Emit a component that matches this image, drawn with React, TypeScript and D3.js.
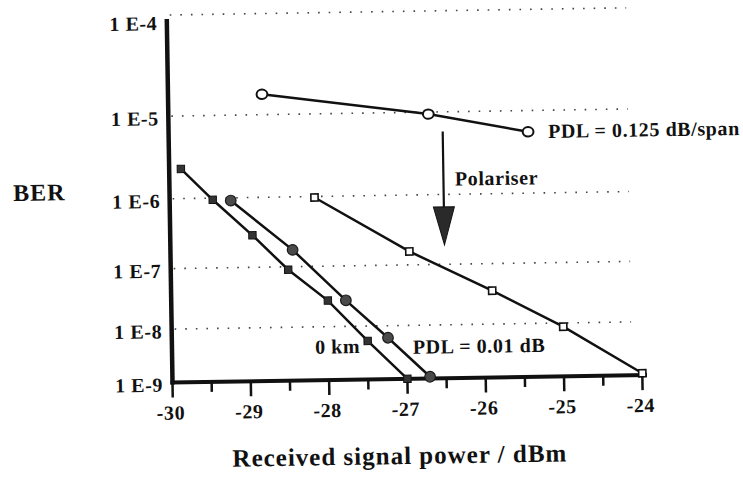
import React from "react";
import * as d3 from "d3";

// Received power (dBm) and bit error rate for each measured curve
const km0Power = [-29.85, -29.45, -28.95, -28.5, -28.0, -27.5, -27.0];
const km0Ber = [2.4e-6, 9.5e-7, 3.0e-7, 9.0e-8, 2.8e-8, 5.4e-9, 1.0e-9];

const pdl001Power = [-29.22, -28.44, -27.77, -27.24, -26.71];
const pdl001Ber = [9.2e-7, 1.8e-7, 2.8e-8, 6.1e-9, 1.08e-9];

const polariserPower = [-28.15, -26.95, -25.9, -25.0, -24.0];
const polariserBer = [9.7e-7, 1.6e-7, 3.7e-8, 8.6e-9, 1.09e-9];

const pdl0125Power = [-28.8, -26.68, -25.41];
const pdl0125Ber = [1.66e-5, 9.5e-6, 5.75e-6];

// Axis ticks
const powerTicks = [-30, -29, -28, -27, -26, -25, -24];
const powerMinorTicks = [-29.5, -28.5, -27.5, -26.5, -25.5, -24.5];
const berTicks = [1e-4, 1e-5, 1e-6, 1e-7, 1e-8, 1e-9];
const berTickLabels = ["1 E-4", "1 E-5", "1 E-6", "1 E-7", "1 E-8", "1 E-9"];

// Polariser annotation arrow (power, BER at tail, head base and tip)
const arrowPower = -26.5;
const arrowTailBer = 6.0e-6;
const arrowHeadBer = 6.8e-7;
const arrowTipBer = 1.97e-7;

const FONT = "'Liberation Serif', 'Times New Roman', serif";

// BER axis uses the usual log(-log(BER)) scaling
const berT = (b: number) => Math.log10(-Math.log10(b));

export default function App() {
  const W = 743;
  const H = 479;
  const x0 = 172.5;
  const yBase = 382.5;

  const x = d3.scaleLinear().domain([-30, -24]).range([x0, 642.4]);
  const yLin = d3
    .scaleLinear()
    .domain([berT(1e-9), berT(1e-4)])
    .range([yBase, 15]);
  const y = (b: number) => yLin(berT(b));

  const line = d3
    .line<[number, number]>()
    .x((d) => x(d[0]))
    .y((d) => y(d[1]));

  const zip = (p: number[], b: number[]) =>
    p.map((v, i) => [v, b[i]] as [number, number]);

  const km0 = zip(km0Power, km0Ber);
  const pdl001 = zip(pdl001Power, pdl001Ber);
  const pol = zip(polariserPower, polariserBer);
  const pdl0125 = zip(pdl0125Power, pdl0125Ber);

  const gridEnd = 632;
  const ax = x(arrowPower);
  const last0125 = pdl0125[pdl0125.length - 1];

  const textStyle = {
    fontFamily: FONT,
    fontWeight: 700,
    fontSize: 20,
    letterSpacing: 0.6,
    fill: "#111",
  } as React.CSSProperties;

  return (
    <div style={{ position: "absolute", left: 0, top: 0 }}>
      <svg width={W} height={H} viewBox={`0 0 ${W} ${H}`}>
        <rect width={W} height={H} fill="#fff" />
        <g transform={`rotate(-0.9 ${x0} ${yBase})`}>
          {/* dotted gridlines */}
          {berTicks.slice(0, 5).map((b) => (
            <line
              key={"g" + b}
              x1={x0 + 3}
              x2={gridEnd}
              y1={y(b)}
              y2={y(b)}
              stroke="#444"
              strokeWidth={1.6}
              strokeDasharray="1.6 9"
            />
          ))}

          {/* axes */}
          <line x1={x0} x2={x0} y1={yBase + 2} y2={19} stroke="#111" strokeWidth={4.5} />
          <line x1={x0 - 2} x2={647} y1={yBase} y2={yBase} stroke="#111" strokeWidth={4} />

          {powerTicks.map((t) => (
            <line key={"M" + t} x1={x(t)} x2={x(t)} y1={yBase} y2={yBase + 15} stroke="#111" strokeWidth={2.5} />
          ))}
          {powerMinorTicks.map((t) => (
            <line key={"m" + t} x1={x(t)} x2={x(t)} y1={yBase} y2={yBase + 10} stroke="#111" strokeWidth={2.5} />
          ))}
          {powerTicks.map((t) => (
            <text key={"t" + t} x={x(t) - 2} y={yBase + 37} textAnchor="middle" style={textStyle}>
              {t}
            </text>
          ))}

          {berTicks.map((b, i) => (
            <text
              key={"l" + b}
              x={x0 - 9.5}
              y={Math.max(y(b) + 2, 23)}
              dy="0.35em"
              textAnchor="end"
              style={textStyle}
            >
              {berTickLabels[i]}
            </text>
          ))}

          {/* curves */}
          {[km0, pdl001, pol, pdl0125].map((s, i) => (
            <path key={"p" + i} d={line(s) || ""} fill="none" stroke="#111" strokeWidth={2.5} />
          ))}

          {/* 0 km: filled squares */}
          {km0.map((d, i) => (
            <rect
              key={"s" + i}
              x={x(d[0]) - 3.7}
              y={y(d[1]) - 3.7}
              width={7.4}
              height={7.4}
              fill="#333"
              stroke="#111"
              strokeWidth={1}
            />
          ))}
          {/* PDL = 0.01 dB: filled circles */}
          {pdl001.map((d, i) => (
            <circle key={"c" + i} cx={x(d[0])} cy={y(d[1])} r={5.3} fill="#4a4a4a" stroke="#1a1a1a" strokeWidth={1.2} />
          ))}
          {/* after polariser: open squares */}
          {pol.map((d, i) => (
            <rect
              key={"o" + i}
              x={x(d[0]) - 3.6}
              y={y(d[1]) - 3.6}
              width={7.2}
              height={7.2}
              fill="#fff"
              stroke="#111"
              strokeWidth={1.6}
            />
          ))}
          {/* PDL = 0.125 dB/span: open circles */}
          {pdl0125.map((d, i) => (
            <ellipse key={"e" + i} cx={x(d[0])} cy={y(d[1])} rx={5.4} ry={4.7} fill="#fff" stroke="#111" strokeWidth={2} />
          ))}

          {/* polariser arrow */}
          <line x1={ax} x2={ax} y1={y(arrowTailBer)} y2={y(arrowHeadBer) + 2} stroke="#111" strokeWidth={2.2} />
          <polygon
            points={`${ax - 10.5},${y(arrowHeadBer)} ${ax + 10.5},${y(arrowHeadBer)} ${ax},${y(arrowTipBer)}`}
            fill="#2a2a2a"
            stroke="#111"
            strokeWidth={1}
          />

          {/* annotations */}
          <text x={x(last0125[0]) + 20} y={y(last0125[1]) + 6.5} style={textStyle}>
            PDL = 0.125 dB/span
          </text>
          <text x={ax + 11.5} y={190} style={textStyle}>
            Polariser
          </text>
          <text x={315.6} y={356} style={textStyle}>
            0 km
          </text>
          <text x={413.3} y={357.6} style={textStyle}>
            PDL = 0.01 dB
          </text>

          {/* axis titles */}
          <text x={16} y={198.5} style={{ ...textStyle, fontSize: 24, letterSpacing: 1 }}>
            BER
          </text>
          <text
            x={398.7}
            y={467.6}
            textAnchor="middle"
            style={{ ...textStyle, fontSize: 25, letterSpacing: 1 }}
          >
            Received signal power / dBm
          </text>
        </g>
      </svg>
    </div>
  );
}
